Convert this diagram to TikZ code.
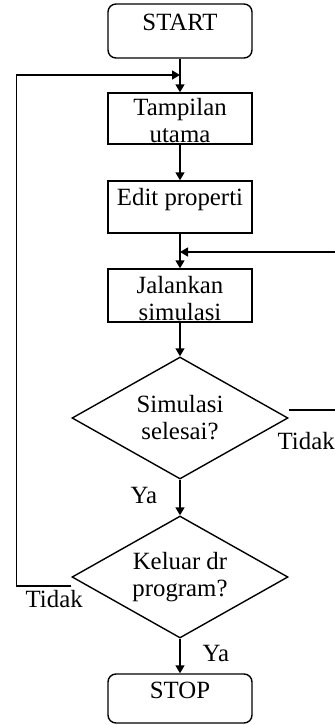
\documentclass[tikz,border=0pt]{standalone}
\usepackage{fontspec}
\setmainfont{Liberation Serif}
\usetikzlibrary{shapes.geometric,arrows.meta}

\begin{document}
\begin{tikzpicture}[x=0.5pt, y=-0.5pt, line width=0.7pt,
                    every node/.style={font=\fontsize{12.4pt}{13.5pt}\selectfont, align=center, inner sep=0pt},
                    box/.style={rectangle, draw, minimum width=72pt},
                    endbox/.style={box, rounded corners=4pt},
                    decision/.style={diamond, draw, aspect=1.77, minimum width=108pt, minimum height=61pt},
                    arr/.style={-{Triangle[length=4pt,width=4.5pt]}}]

    \useasboundingbox (0,0) rectangle (335,725);

    % Define nodes (top to bottom)
    \node[endbox, text height=13pt, text depth=14pt] (start) at (180,31) {START};
    \node[box, text height=24.5pt, text depth=1pt] (tampil) at (180,118.5) {Tampilan\\utama};
    \node[box, text height=12pt, text depth=14pt] (edit) at (180,207) {Edit properti};
    \node[box, text height=25.5pt, text depth=1pt] (jalan) at (180,295.5) {Jalankan\\simulasi};
    \node[decision] (selesai) at (180,418) {Simulasi\\selesai?}; % first decision
    \node[decision] (keluar) at (180,577) {Keluar dr\\program?}; % second decision
    \node[endbox, text height=12pt, text depth=12.5pt] (stop) at (180,698.5) {STOP};

    % Join points of the loops
    \coordinate (joinA) at (180,75);
    \coordinate (joinB) at (180,252);

    % Labels on the branches
    \node[anchor=base west] (tidakA) at (277,449) {Tidak};
    \node[anchor=base west] (yaA) at (130,503) {Ya};
    \node[anchor=base west] (tidakB) at (25,607) {Tidak};
    \node[anchor=base west] (yaB) at (202,661) {Ya};

    % Define edges
    \draw[arr] (start) -- (tampil);
    \draw[arr] (tampil) -- (edit);
    \draw[arr] (edit) -- (jalan);
    \draw[arr] (jalan) -- (selesai);
    \draw[arr] (selesai) -- (keluar);
    \draw[arr] (keluar) -- (stop);

    % Loops back
    \draw[arr] ([yshift=4pt]selesai.east) -- ++(48,0) |- (joinB);
    \draw[arr] ([yshift=-4.5pt]keluar.west) -- ++(-55,0) |- (joinA);
\end{tikzpicture}
\end{document}
